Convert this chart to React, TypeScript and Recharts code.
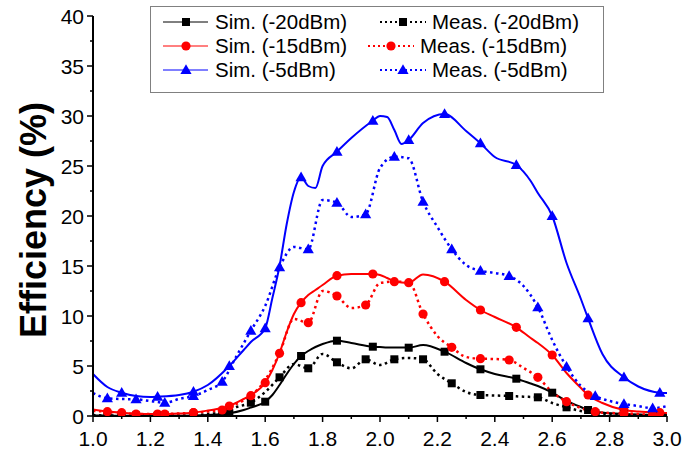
import React from 'react';
import { LineChart, Line, XAxis, YAxis } from 'recharts';

// ---------- tick labels ----------
const xMajorTicks = [1.0, 1.2, 1.4, 1.6, 1.8, 2.0, 2.2, 2.4, 2.6, 2.8, 3.0];
const xMinorTicks = [1.1, 1.3, 1.5, 1.7, 1.9, 2.1, 2.3, 2.5, 2.7, 2.9];
const yMajorTicks = [0, 5, 10, 15, 20, 25, 30, 35, 40];
const yMinorTicks = [2.5, 7.5, 12.5, 17.5, 22.5, 27.5, 32.5, 37.5];

// ---------- simulated curves (dense) ----------
const simX = [1.0, 1.05, 1.1, 1.15, 1.2, 1.225, 1.3, 1.35, 1.4, 1.475, 1.525, 1.55, 1.6, 1.625, 1.65, 1.675, 1.7, 1.725, 1.75, 1.775, 1.8, 1.85, 1.9, 1.975, 2.0, 2.025, 2.05, 2.075, 2.1, 2.15, 2.225, 2.3, 2.35, 2.4, 2.475, 2.525, 2.55, 2.6, 2.65, 2.7, 2.725, 2.775, 2.85, 2.9, 2.975, 3.0];
const simMarkerX = [1.1, 1.225, 1.35, 1.475, 1.6, 1.725, 1.85, 1.975, 2.1, 2.225, 2.35, 2.475, 2.6, 2.725, 2.85, 2.975];
const sim20 = [0.05, 0.04, 0.03, 0.02, 0.02, 0.02, 0.03, 0.05, 0.1, 0.27, 0.6, 0.85, 1.43, 2.1, 3.1, 4.2, 5.2, 6.0, 6.5, 6.9, 7.2, 7.53, 7.3, 6.93, 6.9, 6.85, 6.85, 6.85, 6.83, 7.1, 6.43, 5.3, 4.67, 4.2, 3.73, 3.25, 3.0, 2.33, 1.5, 0.9, 0.6, 0.35, 0.2, 0.15, 0.1, 0.1];
const sim15 = [0.65, 0.45, 0.33, 0.25, 0.2, 0.2, 0.25, 0.33, 0.55, 1.0, 1.7, 2.1, 3.33, 4.6, 6.3, 8.4, 10.2, 11.33, 12.1, 12.6, 13.1, 14.03, 14.2, 14.2, 14.1, 13.8, 13.5, 13.35, 13.33, 14.15, 13.43, 11.6, 10.6, 9.9, 8.87, 7.8, 7.3, 6.1, 4.3, 2.8, 2.1, 1.3, 0.6, 0.45, 0.33, 0.3];
const sim5 = [4.2, 2.9, 2.33, 2.0, 1.9, 1.93, 2.1, 2.43, 3.1, 5.0, 6.6, 7.4, 8.77, 11.8, 15.0, 19.2, 22.4, 23.87, 23.0, 22.8, 25.0, 26.43, 27.8, 29.53, 30.0, 29.9, 28.6, 27.2, 27.6, 29.3, 30.2, 28.5, 27.27, 25.9, 25.1, 23.5, 22.3, 20.0, 15.3, 11.7, 9.77, 6.2, 3.87, 2.95, 2.33, 2.3];

// ---------- measured curves ----------
const measX = [1.0, 1.05, 1.1, 1.15, 1.2, 1.25, 1.3, 1.35, 1.4, 1.45, 1.5, 1.55, 1.6, 1.65, 1.7, 1.75, 1.8, 1.85, 1.9, 1.95, 2.0, 2.05, 2.1, 2.15, 2.2, 2.25, 2.3, 2.35, 2.4, 2.45, 2.5, 2.55, 2.6, 2.65, 2.7, 2.75, 2.8, 2.85, 2.9, 2.95, 3.0];
const measMarkerX = [1.05, 1.15, 1.25, 1.35, 1.45, 1.55, 1.65, 1.75, 1.85, 1.95, 2.05, 2.15, 2.25, 2.35, 2.45, 2.55, 2.65, 2.75, 2.85, 2.95];
const meas20 = [0.1, 0.05, 0.05, 0.05, 0.05, 0.05, 0.05, 0.08, 0.2, 0.4, 0.9, 1.33, 2.4, 3.87, 5.2, 4.77, 6.2, 5.37, 4.77, 5.67, 5.1, 5.67, 5.8, 5.67, 4.2, 3.27, 2.4, 2.1, 2.05, 2.0, 1.93, 1.87, 1.3, 0.87, 0.5, 0.3, 0.2, 0.15, 0.1, 0.1, 0.1];
const meas15 = [0.5, 0.43, 0.3, 0.2, 0.2, 0.2, 0.25, 0.33, 0.45, 0.6, 1.2, 2.03, 3.6, 6.27, 9.7, 9.33, 12.5, 12.0, 10.8, 11.1, 13.3, 13.43, 13.4, 10.2, 8.0, 6.87, 5.9, 5.73, 5.7, 5.6, 4.8, 3.87, 2.4, 1.43, 0.8, 0.43, 0.3, 0.27, 0.2, 0.1, 0.3];
const meas5 = [2.3, 1.77, 1.7, 1.67, 1.5, 1.33, 1.7, 2.0, 2.6, 3.43, 6.0, 8.53, 11.0, 14.87, 16.9, 16.67, 21.6, 21.33, 19.9, 20.17, 24.8, 25.93, 25.77, 21.43, 18.9, 16.67, 15.1, 14.53, 14.3, 14.0, 13.0, 10.87, 7.6, 4.93, 3.0, 2.0, 1.5, 1.2, 1.0, 0.77, 1.0];

const legendNames = ['Sim. (-20dBm)', 'Sim. (-15dBm)', 'Sim. (-5dBm)', 'Meas. (-20dBm)', 'Meas. (-15dBm)', 'Meas. (-5dBm)'];
const colors = ['#000000', '#FF0000', '#0000FF'];
const shapes = ['square', 'circle', 'triangle'];

const FONT = '"Liberation Sans", Arial, sans-serif';

const toRows = (xs: number[], ys: number[]) => xs.map((x, i) => ({ x, y: ys[i] }));
const isIn = (arr: number[], v: number) => arr.some((a) => Math.abs(a - v) < 1e-6);

const Marker = ({ shape, color, cx, cy }: any) => {
  if (shape === 'square') return <rect x={cx - 4} y={cy - 4} width={8} height={8} fill={color} />;
  if (shape === 'circle') return <circle cx={cx} cy={cy} r={4.6} fill={color} />;
  return <polygon points={`${cx},${cy - 5.8} ${cx + 5.6},${cy + 4} ${cx - 5.6},${cy + 4}`} fill={color} />;
};

const makeDot = (shape: string, color: string, marks: number[]) => (props: any) => {
  const { cx, cy, payload, index } = props;
  if (cx == null || cy == null || !payload || !isIn(marks, payload.x)) return <g key={`n${index}`} />;
  return (
    <g key={`m${index}`}>
      <Marker shape={shape} color={color} cx={cx} cy={cy} />
    </g>
  );
};

const allX = [...xMajorTicks, ...xMinorTicks].sort((a, b) => a - b);
const allY = [...yMajorTicks, ...yMinorTicks].sort((a, b) => a - b);

const BottomTick = (props: any) => {
  const { x, y, payload } = props;
  const major = isIn(xMajorTicks, payload.value);
  return (
    <g>
      <line x1={x} y1={y} x2={x} y2={y + (major ? 6 : 3)} stroke="#000" strokeWidth={1.5} />
      {major && (
        <text x={x} y={y + 22} dy="0.36em" textAnchor="middle" fontSize={21} fontFamily={FONT} fill="#000">
          {payload.value.toFixed(1)}
        </text>
      )}
    </g>
  );
};
const TopTick = (props: any) => {
  const { x, y, payload } = props;
  const major = isIn(xMajorTicks, payload.value);
  return <line x1={x} y1={y} x2={x} y2={y + (major ? 6 : 3)} stroke="#000" strokeWidth={1.5} />;
};
const LeftTick = (props: any) => {
  const { x, y, payload } = props;
  const major = isIn(yMajorTicks, payload.value);
  return (
    <g>
      <line x1={x} y1={y} x2={x - (major ? 6 : 3)} y2={y} stroke="#000" strokeWidth={1.5} />
      {major && (
        <text x={x - 9} y={y} dy="0.36em" textAnchor="end" fontSize={21} fontFamily={FONT} fill="#000">
          {payload.value}
        </text>
      )}
    </g>
  );
};
const RightTick = (props: any) => {
  const { x, y, payload } = props;
  const major = isIn(yMajorTicks, payload.value);
  return <line x1={x} y1={y} x2={x - (major ? 6 : 3)} y2={y} stroke="#000" strokeWidth={1.5} />;
};

const YLabel = (props: any) => {
  const vb = props.viewBox || { x: 0, y: 16, width: 93, height: 400 };
  const cx = vb.x + 33;
  const cy = vb.y + vb.height / 2 + 4;
  return (
    <text x={cx} y={cy} transform={`rotate(-90 ${cx} ${cy})`} textAnchor="middle" dy="0.36em" fontSize={36} fontWeight="bold" fontFamily={FONT} fill="#000">
      Efficiency (%)
    </text>
  );
};

const Legend = () => {
  const rowsY = [16, 40, 64];
  return (
    <svg width={454} height={87} style={{ position: 'absolute', left: 150, top: 6, background: '#fff' }}>
      <rect x={0.5} y={0.5} width={453} height={86} fill="#fff" stroke="#808080" strokeWidth={1} />
      {[0, 1, 2].map((i) => (
        <g key={`s${i}`}>
          <line x1={13} y1={rowsY[i]} x2={58} y2={rowsY[i]} stroke={colors[i]} strokeWidth={1} />
          <Marker shape={shapes[i]} color={colors[i]} cx={36} cy={rowsY[i]} />
          <text x={65} y={rowsY[i]} dy="0.36em" fontSize={20.5} fontFamily={FONT} fill="#000">{legendNames[i]}</text>
        </g>
      ))}
      {[0, 1, 2].map((i) => {
        const sx = i === 1 ? 218 : 230;
        return (
          <g key={`m${i}`}>
            <line x1={sx} y1={rowsY[i]} x2={sx + 46} y2={rowsY[i]} stroke={colors[i]} strokeWidth={2} strokeDasharray="2 3" />
            <Marker shape={shapes[i]} color={colors[i]} cx={sx + 23} cy={rowsY[i]} />
            <text x={sx + 52} y={rowsY[i]} dy="0.36em" fontSize={20.5} fontFamily={FONT} fill="#000">{legendNames[i + 3]}</text>
          </g>
        );
      })}
    </svg>
  );
};

export default function App() {
  const simSeries = [sim20, sim15, sim5];
  const measSeries = [meas20, meas15, meas5];
  return (
    <div style={{ position: 'absolute', left: 0, top: 0, width: 685, height: 454, background: '#fff' }}>
      <LineChart width={685} height={454} margin={{ top: 16, right: 18, bottom: 0, left: 0 }}>
        <XAxis xAxisId="b" type="number" dataKey="x" domain={[1, 3]} ticks={allX} interval={0} allowDataOverflow
          tick={<BottomTick />} tickLine={false} tickSize={0} tickMargin={0} height={38}
          axisLine={{ stroke: '#000', strokeWidth: 2 }} />
        <XAxis xAxisId="t" orientation="top" type="number" dataKey="x" domain={[1, 3]} ticks={allX} interval={0} allowDataOverflow
          tick={<TopTick />} tickLine={false} tickSize={0} tickMargin={0} height={0}
          axisLine={{ stroke: '#000', strokeWidth: 2 }} />
        <YAxis yAxisId="l" type="number" domain={[0, 40]} ticks={allY} interval={0} allowDataOverflow
          tick={<LeftTick />} tickLine={false} tickSize={0} tickMargin={0} width={93}
          axisLine={{ stroke: '#000', strokeWidth: 2 }} label={<YLabel />} />
        <YAxis yAxisId="r" orientation="right" type="number" domain={[0, 40]} ticks={allY} interval={0} allowDataOverflow
          tick={<RightTick />} tickLine={false} tickSize={0} tickMargin={0} width={0}
          axisLine={{ stroke: '#000', strokeWidth: 2 }} />
        {simSeries.map((s, i) => (
          <Line key={`sim${i}`} xAxisId="b" yAxisId="l" data={toRows(simX, s)} dataKey="y" type="monotone"
            stroke={colors[i]} strokeWidth={2} dot={makeDot(shapes[i], colors[i], simMarkerX)}
            activeDot={false} isAnimationActive={false} />
        ))}
        {measSeries.map((s, i) => (
          <Line key={`meas${i}`} xAxisId="b" yAxisId="l" data={toRows(measX, s)} dataKey="y" type="monotone"
            stroke={colors[i]} strokeWidth={2.5} strokeDasharray="2.5 3.5" dot={makeDot(shapes[i], colors[i], measMarkerX)}
            activeDot={false} isAnimationActive={false} />
        ))}
      </LineChart>
      <Legend />
    </div>
  );
}
